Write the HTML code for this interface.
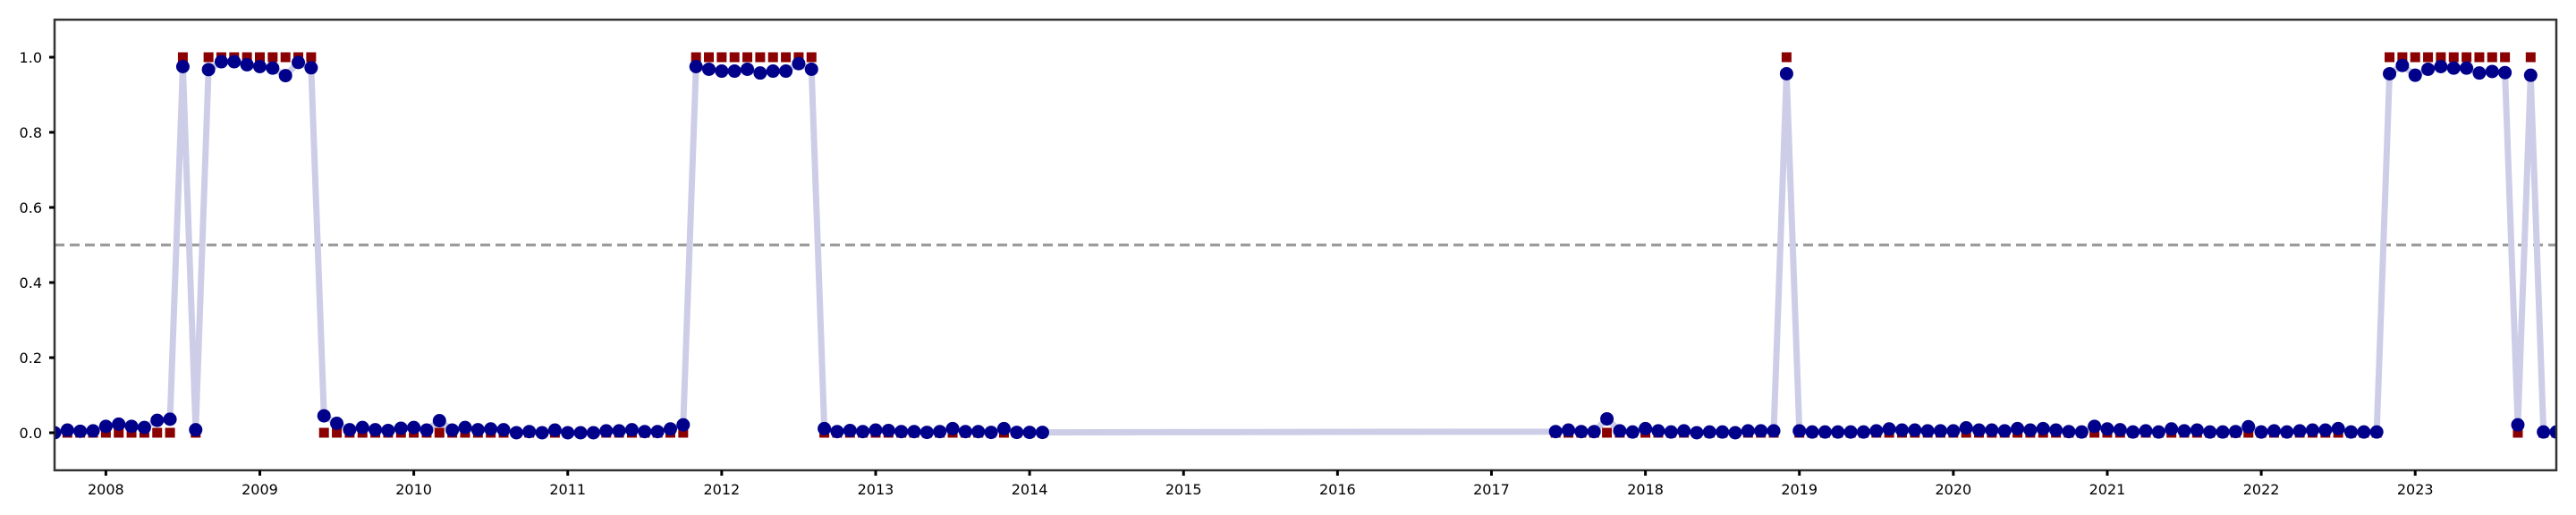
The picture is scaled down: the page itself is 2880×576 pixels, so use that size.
<!DOCTYPE html>
<html><head><meta charset="utf-8"><style>
html,body{margin:0;padding:0;background:#fff;}
svg{display:block;font-family:"DejaVu Sans","Liberation Sans",sans-serif;}
</style></head><body>
<svg id="chart" width="2880" height="576" viewBox="0 0 2880 576" xmlns="http://www.w3.org/2000/svg">
<rect x="0" y="0" width="2880" height="576" fill="#fff"/>
<g id="plot"></g>
</svg>
<script>
const seg1Start = [2007, 9];
const seg1Prob = [0.0,0.007,0.004,0.005,0.017,0.023,0.017,0.014,0.033,0.036,0.975,0.008,0.967,0.988,0.988,0.98,0.975,0.971,0.951,0.986,0.972,0.045,0.025,0.008,0.014,0.008,0.006,0.012,0.014,0.007,0.032,0.007,0.014,0.008,0.01,0.008,0.0,0.003,0.0,0.007,0.0,0.0,0.0,0.005,0.005,0.008,0.003,0.003,0.01,0.021,0.975,0.968,0.963,0.963,0.968,0.958,0.963,0.963,0.983,0.968,0.011,0.003,0.006,0.003,0.007,0.006,0.003,0.003,0.001,0.003,0.011,0.003,0.003,0.001,0.011,0.001,0.001,0.001];
const seg1Label = [0,0,0,0,0,0,0,0,0,0,1,0,1,1,1,1,1,1,1,1,1,0,0,0,0,0,0,0,0,0,0,0,0,0,0,0,0,0,0,0,0,0,0,0,0,0,0,0,0,0,1,1,1,1,1,1,1,1,1,1,0,0,0,0,0,0,0,0,0,0,0,0,0,0,0,0,0,0];
const seg2Start = [2017, 6];
const seg2Prob = [0.003,0.007,0.003,0.003,0.037,0.005,0.002,0.011,0.005,0.002,0.005,0.0,0.002,0.002,0.0,0.005,0.005,0.005,0.956,0.005,0.002,0.002,0.002,0.002,0.002,0.005,0.01,0.007,0.007,0.005,0.005,0.005,0.013,0.007,0.007,0.005,0.011,0.007,0.011,0.007,0.003,0.002,0.017,0.01,0.008,0.002,0.005,0.002,0.01,0.005,0.007,0.002,0.002,0.003,0.016,0.002,0.005,0.002,0.005,0.007,0.007,0.011,0.002,0.002,0.002,0.956,0.978,0.952,0.968,0.975,0.971,0.971,0.958,0.962,0.959,0.021,0.952,0.002,0.002];
const seg2Label = [0,0,0,0,0,0,0,0,0,0,0,0,0,0,0,0,0,0,1,0,0,0,0,0,0,0,0,0,0,0,0,0,0,0,0,0,0,0,0,0,0,0,0,0,0,0,0,0,0,0,0,0,0,0,0,0,0,0,0,0,0,0,0,0,0,1,1,1,1,1,1,1,1,1,1,0,1,0,0];
const xTickYears = [2008,2009,2010,2011,2012,2013,2014,2015,2016,2017,2018,2019,2020,2021,2022,2023];
const yTickVals = [0.0,0.2,0.4,0.6,0.8,1.0];
const threshold = 0.5;

const L=61,R=2858,T=22,B=526;
const X0=2007+8/12, X1=2023+11/12, Y0=-0.1, Y1=1.1;
const xs=v=>L+(v-X0)/(X1-X0)*(R-L);
const ys=v=>B-(v-Y0)/(Y1-Y0)*(B-T);
const NS='http://www.w3.org/2000/svg';
const svg=document.getElementById('chart');
const plot=document.getElementById('plot');
function mk(tag,attrs,parent){const e=document.createElementNS(NS,tag);for(const k in attrs)e.setAttribute(k,attrs[k]);(parent||plot).appendChild(e);return e;}

const pts=[];
function addSeg(start,prob,lab){for(let i=0;i<prob.length;i++){const m=start[1]-1+i;const t=start[0]+m/12;pts.push({t:t,p:prob[i],l:lab[i]});}}
addSeg(seg1Start,seg1Prob,seg1Label);
addSeg(seg2Start,seg2Prob,seg2Label);

const defs=mk('defs',{},svg);
const cp=mk('clipPath',{id:'clip'},defs);
mk('rect',{x:L,y:T,width:R-L,height:B-T},cp);
const g=mk('g',{'clip-path':'url(#clip)'});



const th=mk('line',{x1:L,x2:R,y1:ys(threshold),y2:ys(threshold),stroke:'#999',"stroke-width":3,"stroke-dasharray":'11,6'},g);



const line=mk('polyline',{points:pts.map(d=>xs(d.t)+','+ys(d.p)).join(' '),fill:'none',stroke:'#cdcde8',"stroke-width":7,"stroke-linejoin":'round'},g);



pts.forEach(d=>{const s=mk('rect',{x:xs(d.t)-5.5,y:ys(d.l)-5.5,width:11,height:11,fill:'#8b0000'},g);

});
pts.forEach(d=>{const c=mk('circle',{cx:xs(d.t),cy:ys(d.p),r:7.5,fill:'#00008b'},g);

});

const frame=mk('rect',{x:L,y:T,width:R-L,height:B-T,fill:'none',stroke:'#333',"stroke-width":2.5});



xTickYears.forEach(yr=>{const x=xs(yr);
const tk=mk('line',{x1:x,x2:x,y1:B,y2:B+6,stroke:'#000',"stroke-width":3});


const tx=mk('text',{x:x,y:553,"text-anchor":'middle',"font-size":16,fill:'#000'});
tx.textContent=yr;

});
yTickVals.forEach(v=>{const y=ys(v);
const tk=mk('line',{x1:L-6,x2:L,y1:y,y2:y,stroke:'#000',"stroke-width":3});


const tx=mk('text',{x:47,y:y+6,"text-anchor":'end',"font-size":16,fill:'#000'});
tx.textContent=v.toFixed(1);

});
</script>
</body></html>
